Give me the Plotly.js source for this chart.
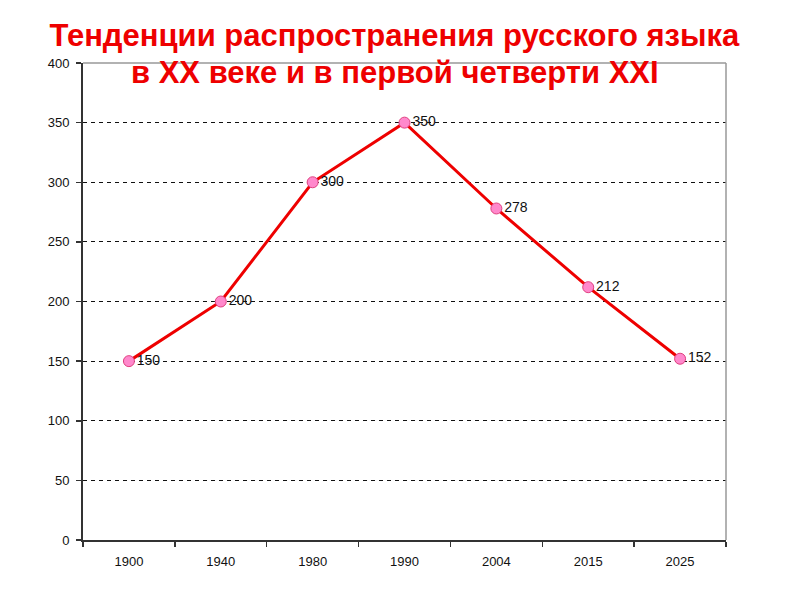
<!DOCTYPE html>
<html><head><meta charset="utf-8">
<script src="https://cdn.plot.ly/plotly-3.0.1.min.js"></script>
<style>html,body{margin:0;padding:0;background:#fff}#c{width:800px;height:600px}</style>
</head><body><div id="c"></div>
<script>
var years = ['1900','1940','1980','1990','2004','2015','2025'];
var speakers = [150, 200, 300, 350, 278, 212, 152];
var yTicks = [0, 50, 100, 150, 200, 250, 300, 350, 400];
var titleLine1 = 'Тенденции распространения русского языка';
var titleLine2 = 'в XX веке и в первой четверти XXI';

var titleFont = {family: 'Liberation Sans, Arial, sans-serif', size: 31, color: '#ee0000', weight: 'bold'};
var tickFont = {family: 'Liberation Sans, Arial, sans-serif', size: 13, color: '#111'};

var trace = {
  x: years, y: speakers, type: 'scatter', mode: 'lines+markers+text',
  text: speakers.map(String), textposition: 'middle right',
  textfont: {family: 'Liberation Sans, Arial, sans-serif', size: 14, color: '#111'},
  line: {color: '#ee0000', width: 3},
  marker: {size: 11, color: '#ff88cc', line: {color: '#e04080', width: 1}},
  cliponaxis: false, hoverinfo: 'none'
};
var layout = {
  width: 800, height: 600,
  margin: {l: 83, r: 74, t: 63, b: 60},
  paper_bgcolor: '#fff', plot_bgcolor: '#fff', showlegend: false,
  title: {text: titleLine1, font: titleFont, x: 0.493, xanchor: 'center', y: 1 - 35/600, yanchor: 'middle'},
  annotations: [
    {text: titleLine2, font: titleFont, xref: 'paper', yref: 'paper', x: 0.485, xanchor: 'center',
     y: (477 - (72 - 63)) / 477, yanchor: 'middle', showarrow: false}
  ],
  xaxis: {type: 'category', range: [-0.5, 6.5], tickson: 'boundaries', ticks: 'outside', ticklen: 5, tickcolor: '#333', tickwidth: 1.5,
          showline: true, linecolor: '#333', linewidth: 2, showgrid: false, zeroline: false, ticklabelstandoff: 8,
          tickfont: tickFont, fixedrange: true},
  yaxis: {range: [0, 400], tickvals: yTicks, ticktext: yTicks.map(String), ticks: 'outside', ticklen: 5, tickcolor: '#333', tickwidth: 1.5,
          showline: true, linecolor: '#333', linewidth: 2, showgrid: true, gridcolor: '#111', gridwidth: 1, griddash: '4px,4px',
          zeroline: false, tickfont: tickFont, ticklabelstandoff: 4, fixedrange: true},
  shapes: [
    {type: 'line', xref: 'x domain', yref: 'y domain', x0: 0, x1: 1, y0: 1, y1: 1, line: {color: '#999', width: 1.5}},
    {type: 'line', xref: 'x domain', yref: 'y domain', x0: 1, x1: 1, y0: 0, y1: 1, line: {color: '#999', width: 1.5}}
  ]
};
Plotly.newPlot('c', [trace], layout, {staticPlot: true, displayModeBar: false});
</script></body></html>
